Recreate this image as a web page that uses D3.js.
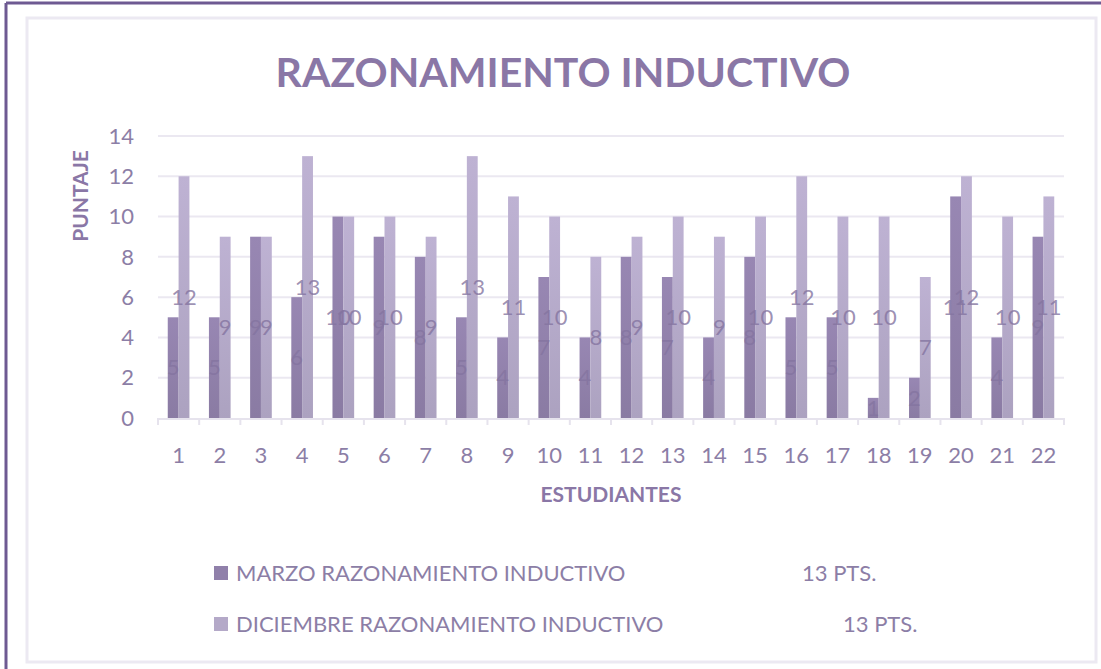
<!DOCTYPE html>
<html lang="es">
<head>
  <meta charset="UTF-8">
  <title>Razonamiento Inductivo</title>
  <script src="https://d3js.org/d3.v7.min.js"></script>
  <style>
    body { margin: 0; background: #fff; }
    svg { display: block; }
    text { font-family: Lato, 'Open Sans', sans-serif; }
  </style>
</head>
<body>
  <svg width="1101" height="669"></svg>
  <script>
    const estudiantes = d3.range(1, 23).map(String);
    const marzo = [5, 5, 9, 6, 10, 9, 8, 5, 4, 7, 4, 8, 7, 4, 8, 5, 5, 1, 2, 11, 4, 9];
    const diciembre = [12, 9, 9, 13, 10, 10, 9, 13, 11, 10, 8, 9, 10, 9, 10, 12, 10, 10, 7, 12, 10, 11];
    const yTicks = [0, 2, 4, 6, 8, 10, 12, 14];
    const series = [
      { name: "MARZO RAZONAMIENTO INDUCTIVO", pts: "13 PTS.", values: marzo, color: "#9080aa" },
      { name: "DICIEMBRE RAZONAMIENTO INDUCTIVO", pts: "13 PTS.", values: diciembre, color: "#b4a9c8" }
    ];

    const svg = d3.select("svg");
    const txt = "#8c7ea6";

    // frame
    svg.append("line").attr("x1", 6).attr("y1", 3).attr("x2", 1101).attr("y2", 3)
      .attr("stroke", "#6e5a92").attr("stroke-width", 3);
    svg.append("line").attr("x1", 6).attr("y1", 3).attr("x2", 6).attr("y2", 669)
      .attr("stroke", "#6e5a92").attr("stroke-width", 3);
    svg.append("rect").attr("x", 27).attr("y", 18).attr("width", 1069).attr("height", 644)
      .attr("fill", "none").attr("stroke", "#ece9f2").attr("stroke-width", 3);

    const plotL = 158, plotR = 1064, plotT = 136, plotB = 418;

    const x = d3.scaleBand().domain(estudiantes).range([plotL, plotR]).paddingInner(0).paddingOuter(0);
    const x1 = d3.scaleBand().domain([0, 1]).range([0, x.bandwidth()]).paddingOuter(0.9).paddingInner(0);
    const y = d3.scaleLinear().domain([0, 14]).range([plotB, plotT]);

    // gradients
    const defs = svg.append("defs");
    series.forEach((s, i) => {
      const g = defs.append("linearGradient").attr("id", "g" + i)
        .attr("x1", 0).attr("y1", 0).attr("x2", 0).attr("y2", 1);
      g.append("stop").attr("offset", 0).attr("stop-color", d3.color(s.color).brighter(0.15));
      g.append("stop").attr("offset", 1).attr("stop-color", d3.color(s.color).darker(0.12));
    });

    // grid
    svg.append("g").selectAll("line").data(yTicks.filter(d => d > 0)).join("line")
      .attr("x1", plotL).attr("x2", plotR)
      .attr("y1", d => y(d)).attr("y2", d => y(d))
      .attr("stroke", "#ebe8f1").attr("stroke-width", 2);

    // y labels
    svg.append("g").selectAll("text").data(yTicks).join("text")
      .attr("x", 134).attr("y", d => y(d)).attr("dy", "0.35em")
      .attr("text-anchor", "end").attr("fill", txt)
      .style("font-size", "22px").text(d => d);

    // bars
    const groups = svg.append("g").selectAll("g").data(estudiantes).join("g")
      .attr("transform", d => `translate(${x(d)},0)`);
    series.forEach((s, i) => {
      groups.append("rect")
        .attr("x", x1(i)).attr("width", x1.bandwidth())
        .attr("y", (d, j) => y(s.values[j]))
        .attr("height", (d, j) => y(0) - y(s.values[j]))
        .attr("fill", `url(#g${i})`);
    });

    // axis
    svg.append("line").attr("x1", plotL).attr("x2", plotR).attr("y1", plotB + 1).attr("y2", plotB + 1)
      .attr("stroke", "#e6e3ed").attr("stroke-width", 2);
    svg.append("g").selectAll("line").data(d3.range(23)).join("line")
      .attr("x1", d => plotL + d * x.step()).attr("x2", d => plotL + d * x.step())
      .attr("y1", plotB).attr("y2", plotB + 7)
      .attr("stroke", "#e6e3ed").attr("stroke-width", 2);
    svg.append("g").selectAll("text").data(estudiantes).join("text")
      .attr("x", d => x(d) + x.bandwidth() / 2).attr("y", 455).attr("dy", "0.35em")
      .attr("text-anchor", "middle").attr("fill", txt)
      .style("font-size", "22px").text(d => d);

    // data labels
    series.forEach((s, i) => {
      groups.append("text")
        .attr("x", x1(i) + x1.bandwidth() / 2)
        .attr("y", (d, j) => (y(s.values[j]) + y(0)) / 2).attr("dy", "0.35em")
        .attr("text-anchor", "middle").attr("fill", "#8474a0").attr("fill-opacity", 0.8)
        .style("font-size", "22px").text((d, j) => s.values[j]);
    });

    // titles
    svg.append("text").attr("x", 563).attr("y", 73).attr("dy", "0.35em")
      .attr("text-anchor", "middle").attr("fill", "#8a77a6")
      .style("font-size", "41px").style("font-weight", "bold").text("RAZONAMIENTO INDUCTIVO");
    svg.append("text").attr("transform", "translate(81,196) rotate(-90)").attr("dy", "0.35em")
      .attr("text-anchor", "middle").attr("fill", "#8a77a6")
      .style("font-size", "21px").style("font-weight", "bold").text("PUNTAJE");
    svg.append("text").attr("x", 611).attr("y", 495).attr("dy", "0.35em")
      .attr("text-anchor", "middle").attr("fill", "#8a77a6")
      .style("font-size", "21px").style("font-weight", "bold").text("ESTUDIANTES");

    // legend
    const legY = [573, 624], ptsX = [802, 843];
    series.forEach((s, i) => {
      svg.append("rect").attr("x", 214).attr("y", legY[i] - 7).attr("width", 14).attr("height", 14)
        .attr("fill", s.color);
      svg.append("text").attr("x", 236).attr("y", legY[i]).attr("dy", "0.35em")
        .attr("fill", txt).style("font-size", "22px").text(s.name);
      svg.append("text").attr("x", ptsX[i]).attr("y", legY[i]).attr("dy", "0.35em")
        .attr("fill", txt).style("font-size", "22px").text(s.pts);
    });
  </script>
</body>
</html>
